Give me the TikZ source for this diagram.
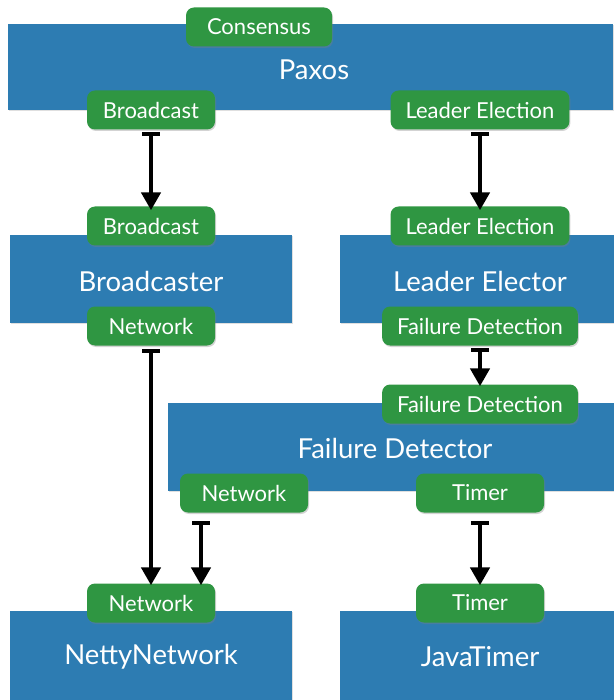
\documentclass[tikz,border=0pt]{standalone}
\usepackage{fontspec}
\setmainfont{Lato}
\usetikzlibrary{shapes,positioning,arrows.meta,shadows}
\definecolor{compblue}{RGB}{45,124,178}
\definecolor{portgreen}{RGB}{47,150,66}
\tikzstyle{every node}=[text=white]
\tikzstyle{component}=[fill=compblue,inner sep=0pt,font=\fontsize{27.5}{30}\selectfont,
  drop shadow={opacity=0.25,shadow xshift=1pt,shadow yshift=-1pt}]
\tikzstyle{compname}=[font=\fontsize{27.5}{30}\selectfont]
\tikzstyle{port}=[fill=portgreen,rounded corners=8pt,minimum height=39pt,minimum width=128pt,
  inner xsep=15pt,font=\fontsize{22}{24}\selectfont,
  drop shadow={opacity=0.35,shadow xshift=1pt,shadow yshift=-1.5pt}]
\tikzstyle{wire}=[line width=4.5pt,{Bar[width=18pt,line width=4pt]}-{Triangle[width=19pt,length=18pt]}]

\begin{document}
\begin{tikzpicture}[x=1pt,y=-1pt]
  \useasboundingbox (0,0) rectangle (613,700);
  % components
  \node [component,minimum width=605pt,minimum height=86pt] (paxos) at (310.5,67) {};
  \node at (314,70) [compname] {Paxos};
  \node [component,minimum width=282pt,minimum height=88pt] (bcast) at (151,279) {};
  \node at (151,281) [compname] {Broadcaster};
  \node [component,minimum width=280pt,minimum height=88pt] (elect) at (480,279) {};
  \node at (480,281) [compname] {Leader Elector};
  \node [component,minimum width=454pt,minimum height=88pt] (fd) at (395,447) {};
  \node at (395,448) [compname] {Failure Detector};
  \node [component,minimum width=282pt,minimum height=92pt] (netty) at (151,657) {NettyNetwork};
  \node [component,minimum width=280pt,minimum height=92pt] (jtimer) at (480,657) {JavaTimer};
  % ports
  \node [port,minimum width=146pt] (pxcons) at (259,27) {Consensus};
  \node [port] (pxbc) at (151,110) {Broadcast};
  \node [port] (pxle) at (480,110) {Leader Election};
  \node [port] (bcbc) at (151,226) {Broadcast};
  \node [port] (bcnet) at (151,326) {Network};
  \node [port] (lele) at (480,226) {Leader Election};
  \node [port] (lefd) at (480,326) {Failure Detection};
  \node [port] (fdfd) at (480,404) {Failure Detection};
  \node [port] (fdnet) at (244,493) {Network};
  \node [port] (fdtim) at (480,493) {Timer};
  \node [port] (nnet) at (151,603) {Network};
  \node [port] (jtim) at (480,603) {Timer};
  % connections
  \draw [wire] ([yshift=-2pt]pxbc.south) -- ([yshift=-4pt]bcbc.north);
  \draw [wire] ([yshift=-2pt]pxle.south) -- ([yshift=-4pt]lele.north);
  \draw [wire] ([yshift=-2pt]lefd.south) -- ([yshift=-2pt]fdfd.north);
  \draw [wire] ([yshift=-3pt]bcnet.south) -- ([yshift=-2pt]nnet.north);
  \draw [wire] ([xshift=-43pt,yshift=-8pt]fdnet.south) -- ([xshift=-43pt,yshift=-2pt]fdnet.south |- nnet.north);
  \draw [wire] ([yshift=-8pt]fdtim.south) -- ([yshift=-2pt]jtim.north);
\end{tikzpicture}
\end{document}
